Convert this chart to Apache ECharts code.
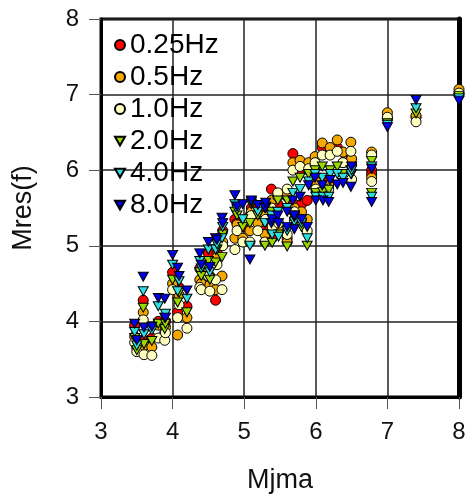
<!DOCTYPE html>
<html>
<head>
<meta charset="utf-8">
<script src="https://cdn.jsdelivr.net/npm/echarts@6/dist/echarts.min.js"></script>
<style>
  html, body { margin: 0; padding: 0; background: #fff; }
  #scatter_chart { width: 469px; height: 495px; }
</style>
</head>
<body>
<div id="scatter_chart"></div>
<script>
// magnitude of each event (x)
const mjma = [3.47, 3.50, 3.59, 3.60, 3.71, 3.80, 3.89, 3.90, 4.00, 4.07,
  4.09, 4.20, 4.38, 4.40, 4.50, 4.52, 4.60, 4.62, 4.69, 4.70,
  4.87, 4.90, 4.98, 5.08, 5.10, 5.19, 5.29, 5.30, 5.38, 5.39,
  5.47, 5.48, 5.60, 5.60, 5.68, 5.70, 5.70, 5.78, 5.80, 5.88,
  5.90, 5.99, 6.00, 6.09, 6.10, 6.18, 6.20, 6.30, 6.38, 6.49,
  6.50, 6.78, 6.78, 7.00, 7.40, 8.00]

// Mres(f) for each frequency, same order as mjma
const hz025 = [3.95, 3.70, 4.28, 3.75, 3.78, 4.00, 3.95, 4.00, 4.65, 4.12,
  4.45, 4.20, 4.70, 4.55, 4.90, 4.60, 4.28, 4.90, 5.00, 5.20,
  5.35, 5.30, 5.25, 5.40, 5.50, 5.35, 5.20, 5.45, 5.75, 5.10,
  5.55, 5.20, 5.65, 5.10, 6.22, 5.45, 5.55, 6.00, 5.55, 5.60,
  6.00, 6.05, 5.80, 6.30, 5.70, 5.85, 6.25, 6.30, 6.10, 6.15,
  6.08, 6.00, 5.95, 6.70, 6.70, 7.00]
const hz05 = [3.80, 3.65, 4.12, 3.68, 3.66, 3.95, 3.85, 3.92, 4.50, 3.82,
  4.35, 4.05, 4.55, 4.50, 4.70, 4.48, 4.42, 4.85, 4.60, 5.05,
  5.10, 5.28, 5.10, 5.20, 5.45, 5.30, 5.15, 5.40, 5.60, 5.20,
  5.65, 5.25, 5.70, 5.05, 6.10, 5.35, 5.50, 6.13, 5.45, 5.35,
  6.10, 6.18, 5.85, 6.36, 5.72, 5.80, 6.30, 6.40, 6.24, 6.37,
  6.15, 6.24, 5.90, 6.76, 6.72, 7.07]
const hz10 = [3.72, 3.60, 4.02, 3.56, 3.55, 3.78, 3.75, 3.85, 4.42, 4.05,
  4.22, 3.91, 4.45, 4.42, 4.60, 4.40, 4.55, 4.75, 4.42, 5.00,
  4.95, 5.20, 5.05, 5.05, 5.40, 5.20, 5.05, 5.35, 5.50, 5.25,
  5.70, 5.30, 5.75, 5.15, 6.00, 5.30, 5.45, 6.05, 5.35, 5.20,
  6.02, 6.10, 5.75, 6.20, 5.68, 5.75, 6.20, 6.25, 6.10, 6.25,
  5.88, 6.20, 5.85, 6.70, 6.64, 7.02]
const hz20 = [3.78, 3.62, 4.18, 3.70, 3.74, 3.97, 3.90, 3.97, 4.55, 4.25,
  4.38, 4.12, 4.65, 4.60, 4.80, 4.55, 4.78, 4.95, 4.85, 5.15,
  5.45, 5.40, 5.25, 5.30, 5.55, 5.40, 5.00, 5.50, 5.45, 5.04,
  5.60, 5.15, 5.60, 4.99, 5.85, 5.25, 5.40, 5.90, 5.25, 5.00,
  5.95, 6.00, 5.70, 6.05, 5.71, 5.74, 6.00, 6.05, 5.95, 6.00,
  5.95, 6.12, 5.70, 6.62, 6.75, 6.98]
const hz40 = [3.86, 3.68, 4.40, 3.83, 3.88, 4.20, 4.05, 4.10, 4.75, 4.40,
  4.53, 4.30, 4.80, 4.70, 4.95, 4.65, 4.95, 5.02, 5.10, 5.25,
  5.55, 5.48, 5.35, 5.00, 5.58, 5.45, 5.30, 5.52, 5.40, 5.15,
  5.45, 5.12, 5.50, 5.20, 5.70, 5.32, 5.38, 5.75, 5.30, 5.10,
  5.85, 5.95, 5.65, 5.90, 5.65, 5.65, 5.95, 5.95, 5.90, 5.95,
  6.00, 6.05, 5.65, 6.60, 6.82, 6.95]
const hz80 = [3.97, 3.75, 4.59, 3.92, 3.93, 4.31, 4.30, 4.05, 4.88, 4.71,
  4.60, 4.41, 4.90, 4.75, 5.05, 4.72, 5.10, 5.08, 5.37, 5.30,
  5.67, 5.52, 5.55, 4.82, 5.60, 5.54, 5.50, 5.57, 5.30, 5.35,
  5.40, 5.30, 5.45, 5.25, 5.60, 5.40, 5.22, 5.65, 5.35, 5.25,
  5.80, 5.90, 5.60, 5.80, 5.60, 5.58, 5.87, 5.81, 5.83, 5.78,
  6.05, 6.02, 5.58, 6.57, 6.93, 6.92]

const freqNames = ['0.25Hz', '0.5Hz', '1.0Hz', '2.0Hz', '4.0Hz', '8.0Hz']
const freqColors = ['#ff0000', '#f5a800', '#ffffc0', '#9ad800', '#30e0e0', '#0000e6']
const freqValues = [hz025, hz05, hz10, hz20, hz40, hz80]

const downTriangle = 'path://M0,0 L10,0 L5,9 Z'
const fontName = 'Liberation Sans, Arial, sans-serif'

const seriesData = freqNames.map((name, i) => {
  const isCircle = i < 3
  return {
    name: name,
    type: 'scatter',
    symbol: isCircle ? 'circle' : downTriangle,
    symbolSize: isCircle ? 10 : [10, 9],
    itemStyle: {
      color: freqColors[i],
      borderColor: '#000',
      borderWidth: 1,
      opacity: 1
    },
    data: mjma.map((m, k) => [m, freqValues[i][k]])
  }
})

// legend icons are drawn a bit smaller than the plotted marks
const legendData = freqNames.map((name, i) => ({
  name: name,
  icon: i < 3 ? 'circle' : 'path://M1,1 L9,1 L5,8 Z'
}))

const myChart = echarts.init(document.getElementById('scatter_chart'))

myChart.setOption({
  backgroundColor: '#fff',
  animation: false,
  textStyle: { fontFamily: fontName },

  grid: {
    left: 101,
    right: 10,
    top: 19,
    bottom: 98,
    outerBoundsMode: 'none', // keep the plot box where it is
    show: true,
    borderColor: '#000',
    borderWidth: 3
  },

  legend: {
    orient: 'vertical',
    left: 109,
    top: 26,
    itemWidth: 10,
    itemHeight: 10,
    itemGap: 4,
    textStyle: {
      color: '#000',
      fontSize: 28,
      fontFamily: fontName,
      lineHeight: 26
    },
    data: legendData
  },

  xAxis: {
    type: 'value',
    min: 3,
    max: 8,
    interval: 1,
    name: 'Mjma',
    nameLocation: 'middle',
    nameGap: 70,
    nameTextStyle: { color: '#111', fontSize: 27, fontFamily: fontName },
    axisLine: { show: true, lineStyle: { color: '#000', width: 3 } },
    axisTick: { show: true, length: 12, lineStyle: { color: '#555', width: 1 } },
    axisLabel: { color: '#111', fontSize: 24, margin: 23, fontFamily: fontName },
    splitLine: { show: true, lineStyle: { color: '#222', width: 1.5 } }
  },

  yAxis: [
    {
      type: 'value',
      min: 3,
      max: 8,
      interval: 1,
      name: 'Mres(f)',
      nameLocation: 'middle',
      nameGap: 64,
      nameTextStyle: { color: '#111', fontSize: 27, fontFamily: fontName },
      axisLine: { show: true, lineStyle: { color: '#000', width: 3 } },
      axisTick: { show: true, length: 12, lineStyle: { color: '#555', width: 1 } },
      axisLabel: { color: '#111', fontSize: 24, margin: 22, fontFamily: fontName },
      splitLine: { show: true, lineStyle: { color: '#222', width: 1.5 } }
    },
    {
      // thicker right edge of the frame
      type: 'value',
      position: 'right',
      min: 3,
      max: 8,
      interval: 1,
      axisLine: { show: true, lineStyle: { color: '#000', width: 5 } },
      axisTick: { show: false },
      axisLabel: { show: false },
      splitLine: { show: false }
    }
  ],

  series: seriesData
})
</script>
</body>
</html>
